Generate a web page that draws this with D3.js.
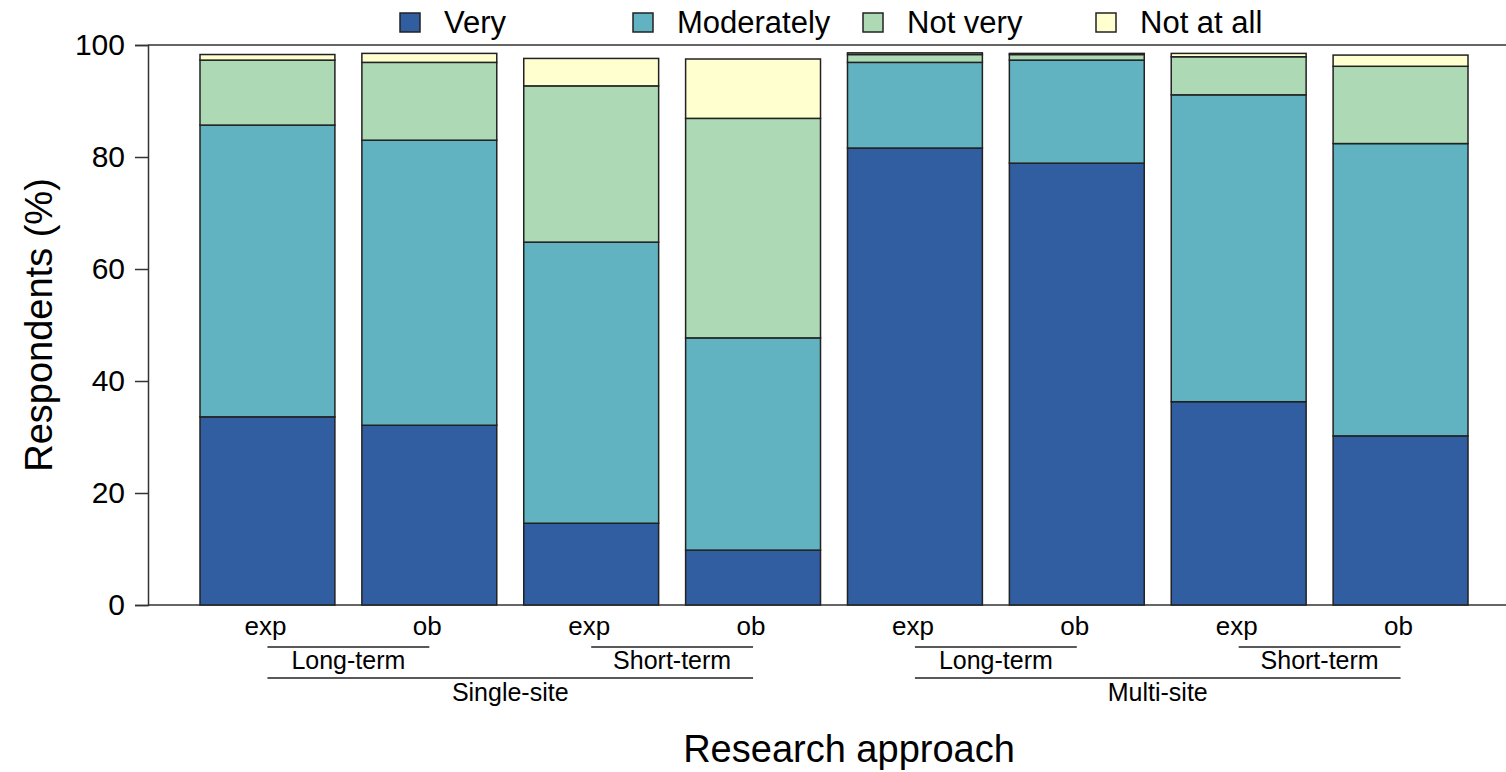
<!DOCTYPE html>
<html><head><meta charset="utf-8">
<script src="https://cdn.jsdelivr.net/npm/d3@7"></script>
<style>body{margin:0;background:#fff}svg{display:block}text{font-family:"Liberation Sans",Arial,sans-serif;fill:#000}</style>
</head><body>
<script>
const bars = ["exp","ob","exp","ob","exp","ob","exp","ob"];
const duration = ["Long-term","Long-term","Short-term","Short-term","Long-term","Long-term","Short-term","Short-term"];
const site = ["Single-site","Single-site","Single-site","Single-site","Multi-site","Multi-site","Multi-site","Multi-site"];
const seriesNames = ["Very","Moderately","Not very","Not at all"];
const very       = [33.6, 32.1, 14.6,  9.8, 81.6, 78.9, 36.3, 30.2];
const moderately = [52.1, 50.9, 50.2, 37.9, 15.3, 18.4, 54.8, 52.2];
const notVery    = [11.6, 13.9, 27.9, 39.2,  1.4,  1.0,  6.8, 13.8];
const notAtAll   = [ 1.0,  1.6,  4.9, 10.6,  0.3,  0.2,  0.6,  2.0];
const colors = ["#315da1","#62b3c1","#aed9b5","#ffffd0"];
const yTicks = [0,20,40,60,80,100];

const W=1506,H=772;
const svg=d3.select("body").append("svg").attr("width",W).attr("height",H);
const y=d3.scaleLinear().domain([0,100]).range([605,45]);
const x0=d3.scaleBand().domain(d3.range(bars.length)).range([200,1468]).paddingInner(27/162);

const table=bars.map((b,i)=>({i,"Very":very[i],"Moderately":moderately[i],"Not very":notVery[i],"Not at all":notAtAll[i]}));
const stack=d3.stack().keys(seriesNames)(table);

// frame lines
svg.append("line").attr("x1",148).attr("x2",W).attr("y1",y(100)).attr("y2",y(100)).attr("stroke","#333").attr("stroke-width",1.5);
svg.append("line").attr("x1",148).attr("x2",W).attr("y1",y(0)).attr("y2",y(0)).attr("stroke","#333").attr("stroke-width",1.5);

const yAxis=svg.append("g").attr("transform","translate(148,0)")
  .call(d3.axisLeft(y).tickValues(yTicks).tickSize(13).tickPadding(10));
yAxis.select(".domain").attr("stroke","#333").attr("stroke-width",1.5);
yAxis.selectAll(".tick line").attr("stroke","#333").attr("stroke-width",1.5);
yAxis.selectAll("text").attr("font-size",30).attr("font-family","Liberation Sans, Arial, sans-serif").attr("fill","#000");

svg.append("g").selectAll("g").data(stack).join("g").attr("fill",(d,k)=>colors[k])
  .selectAll("rect").data(d=>d).join("rect")
  .attr("x",d=>x0(d.data.i)).attr("width",x0.bandwidth())
  .attr("y",d=>y(d[1])).attr("height",d=>y(d[0])-y(d[1]))
  .attr("stroke","#222").attr("stroke-width",1.5);

// x labels
const cx=i=>x0(i)+x0.bandwidth()/2;
svg.append("g").selectAll("text").data(bars).join("text")
  .attr("x",(d,i)=>cx(i)-2).attr("y",635).attr("text-anchor","middle").attr("font-size",26).text(d=>d);

function groups(arr){const g=[];arr.forEach((v,i)=>{if(g.length&&g[g.length-1].name===v&&g[g.length-1].end===i-1){g[g.length-1].end=i}else g.push({name:v,start:i,end:i})});return g;}
const durG=groups(duration), siteG=groups(site);
durG.forEach(g=>{
  svg.append("line").attr("x1",cx(g.start)).attr("x2",cx(g.end)).attr("y1",647).attr("y2",647).attr("stroke","#222").attr("stroke-width",1.5);
  svg.append("text").attr("x",(cx(g.start)+cx(g.end))/2).attr("y",669).attr("text-anchor","middle").attr("font-size",25).text(g.name);
});
siteG.forEach(g=>{
  svg.append("line").attr("x1",cx(g.start)).attr("x2",cx(g.end)).attr("y1",678).attr("y2",678).attr("stroke","#222").attr("stroke-width",1.5);
  svg.append("text").attr("x",(cx(g.start)+cx(g.end))/2).attr("y",701).attr("text-anchor","middle").attr("font-size",25).text(g.name);
});

svg.append("text").attr("x",849).attr("y",762).attr("text-anchor","middle").attr("font-size",38).text("Research approach");
svg.append("text").attr("transform","translate(52,325) rotate(-90)").attr("text-anchor","middle").attr("font-size",38).text("Respondents (%)");

// legend
const legX=[400,633,863,1096];
const leg=svg.append("g").selectAll("g").data(seriesNames).join("g").attr("transform",(d,i)=>`translate(${legX[i]},0)`);
leg.append("rect").attr("x",0).attr("y",13).attr("width",20).attr("height",19).attr("fill",(d,i)=>colors[i]).attr("stroke","#222").attr("stroke-width",1.5);
leg.append("text").attr("x",44).attr("y",33).attr("font-size",31).text(d=>d);
</script>
</body></html>
